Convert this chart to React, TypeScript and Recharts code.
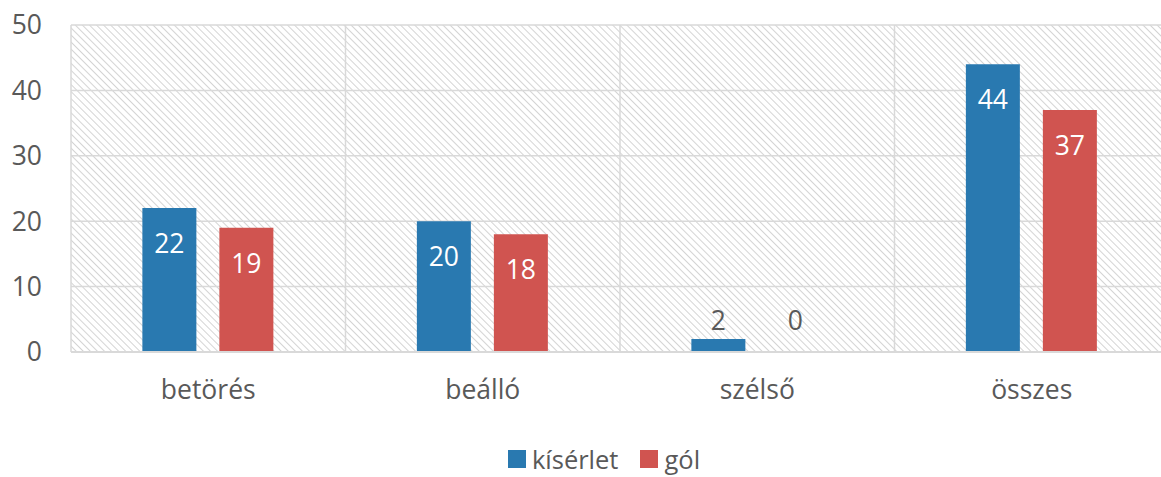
import React from 'react';
import { BarChart, Bar, XAxis, YAxis, CartesianGrid, LabelList } from 'recharts';

const categories = ['betörés', 'beálló', 'szélső', 'összes'];
const kiserlet = [22, 20, 2, 44];
const gol = [19, 18, 0, 37];
const yTicks = [0, 10, 20, 30, 40, 50];

const BLUE = '#2979b0';
const RED = '#d05450';
const TEXT = '#595959';
const GRID = '#d9d9d9';
const FONT = '"Open Sans", "Noto Sans", sans-serif';
const FS = 26.5;

const data = categories.map((name, i) => ({ name, kiserlet: kiserlet[i], gol: gol[i] }));

function ValueLabel(props: any) {
  const { x, y, width, height, value } = props;
  const h = Number(height) || 0;
  const inside = h > 40;
  const cy = inside ? y + 35 : y + h - 32;
  return (
    <text
      x={x + width / 2}
      y={cy}
      textAnchor="middle"
      dominantBaseline="central"
      fill={inside ? '#ffffff' : TEXT}
      fontSize={FS}
      fontFamily={FONT}
    >
      {value}
    </text>
  );
}

export default function App() {
  return (
    <div style={{ position: 'absolute', left: 0, top: 0, width: 1161, height: 477, overflow: 'hidden', background: '#fff' }}>
      <svg width={0} height={0} style={{ position: 'absolute' }}>
        <defs>
          <pattern id="hatch" patternUnits="userSpaceOnUse" width={5} height={5} patternTransform="rotate(-45)">
            <line x1={0} y1={0} x2={0} y2={5} stroke="#cfcfcf" strokeWidth={1.8} />
          </pattern>
        </defs>
      </svg>
      <BarChart
        width={1170}
        height={477}
        data={data}
        margin={{ top: 25, right: 1, bottom: 0, left: 0 }}
        barCategoryGap="26%"
        barGap={23}
      >
        <CartesianGrid
          fill="url(#hatch)"
          stroke={GRID}
          strokeWidth={1.5}
          verticalCoordinatesGenerator={({ offset }: any) =>
            categories.map((_, i) => offset.left + (i * offset.width) / categories.length).concat(offset.left + offset.width)
          }
        />
        <XAxis
          dataKey="name"
          height={125}
          axisLine={{ stroke: GRID, strokeWidth: 2 }}
          tickLine={false}
          tickMargin={22}
          tick={{ fill: TEXT, fontSize: FS, fontFamily: FONT }}
        />
        <YAxis
          width={71}
          domain={[0, 50]}
          ticks={yTicks}
          interval={0}
          axisLine={false}
          tickLine={false}
          tickSize={0}
          tickMargin={29}
          tick={{ fill: TEXT, fontSize: FS, fontFamily: FONT }}
        />
        <Bar dataKey="kiserlet" fill={BLUE} isAnimationActive={false}>
          <LabelList dataKey="kiserlet" content={ValueLabel} />
        </Bar>
        <Bar dataKey="gol" fill={RED} minPointSize={0.01} isAnimationActive={false}>
          <LabelList dataKey="gol" content={ValueLabel} />
        </Bar>
      </BarChart>
      <div
        style={{
          position: 'absolute',
          top: 444,
          left: 0,
          width: 1208,
          height: 30,
          lineHeight: '30px',
          display: 'flex',
          justifyContent: 'center',
          alignItems: 'center',
          gap: 22,
          fontFamily: FONT,
          fontSize: 25.5,
          color: TEXT,
        }}
      >
        <span style={{ display: 'flex', alignItems: 'center', gap: 6 }}>
          <span style={{ width: 18, height: 18, background: BLUE, display: 'inline-block' }} />
          kísérlet
        </span>
        <span style={{ display: 'flex', alignItems: 'center', gap: 6 }}>
          <span style={{ width: 18, height: 18, background: RED, display: 'inline-block' }} />
          gól
        </span>
      </div>
    </div>
  );
}
